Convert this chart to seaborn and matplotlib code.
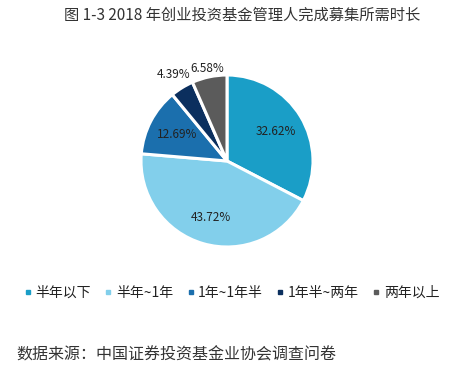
import matplotlib
matplotlib.use("Agg")
import matplotlib.pyplot as plt
import seaborn as sns
import numpy as np
from matplotlib.lines import Line2D

categories = ["半年以下", "半年~1年", "1年~1年半", "1年半~两年", "两年以上"]
values = [32.62, 43.72, 12.69, 4.39, 6.58]
labels = ["32.62%", "43.72%", "12.69%", "4.39%", "6.58%"]
colors = ["#1a9ec7", "#82cfeb", "#1b6fad", "#0b2f5e", "#5b5b5b"]
label_dist = [0.66, 0.68, 0.66, 1.18, 1.10]

sns.set_theme(style="white")
plt.rcParams['font.family'] = ['Noto Sans CJK SC', 'DejaVu Sans']

fig = plt.figure(figsize=(4.7, 3.71), dpi=100)
W, H = 470, 371
cx, cy, r = 227, 161, 86
ax = fig.add_axes([(cx - r) / W, (H - cy - r) / H, 2 * r / W, 2 * r / H])

wedges, _ = ax.pie(values, colors=colors, startangle=90, counterclock=False,
                   wedgeprops=dict(edgecolor="white", linewidth=2.2), radius=1)
ax.set_xlim(-1, 1)
ax.set_ylim(-1, 1)
ax.set_aspect("equal")
ax.axis("off")

for w, lab, d in zip(wedges, labels, label_dist):
    ang = np.deg2rad((w.theta1 + w.theta2) / 2)
    ax.text(d * np.cos(ang), d * np.sin(ang), lab, ha="center", va="center",
            fontsize=8.5, color="#222222", clip_on=False)

fig.text(242 / W, 1 - 15 / H, "图 1-3 2018 年创业投资基金管理人完成募集所需时长",
         ha="center", va="center", fontsize=11, color="#333333")

handles = [Line2D([0], [0], marker="s", linestyle="none", markersize=2.2,
                  markerfacecolor=c, markeredgecolor=c) for c in colors]
fig.legend(handles, categories, loc="center", bbox_to_anchor=(232 / W, 1 - 293 / H),
           ncol=5, frameon=False, fontsize=10, handlelength=0.5, handletextpad=0.3,
           columnspacing=1.0, labelcolor="#222222")

fig.text(16 / W, 1 - 355 / H, "数据来源：中国证券投资基金业协会调查问卷",
         ha="left", va="center", fontsize=11.5, color="#333333")

fig.savefig("out.png", dpi=100)
